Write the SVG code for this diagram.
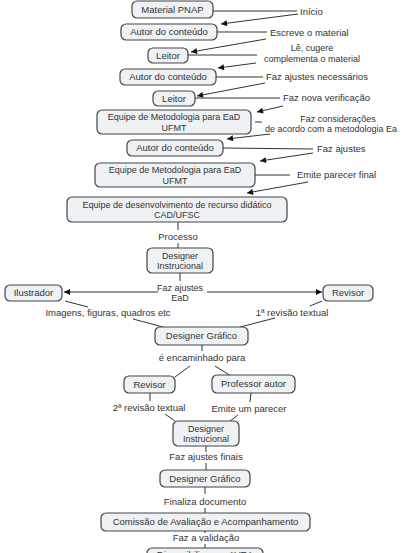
<svg xmlns="http://www.w3.org/2000/svg" width="409" height="553" viewBox="0 0 409 553">
<style>
.n rect{fill:#eef2f4;stroke:#444;stroke-width:1.2}
text{font-family:"Liberation Sans",Arial,sans-serif;font-size:9.5px;fill:#333;text-anchor:middle}
.m{font-size:9px}
.l{text-anchor:start}
.c line{stroke:#333;stroke-width:1}
.c .a{marker-end:url(#ah)}
</style>
<defs>
<marker id="ah" viewBox="0 0 10 10" refX="10" refY="5" markerWidth="10" markerHeight="6" markerUnits="userSpaceOnUse" orient="auto">
<path d="M0,0 L10,5 L0,10 z" fill="#111"/>
</marker>
</defs>
<rect width="409" height="553" fill="#fff"/>
<g class="c" id="connectors">
<line x1="213" y1="11" x2="297" y2="11"/>
<text class="l" x="300" y="15">Início</text>
<line class="a" x1="298" y1="14" x2="221" y2="24"/>
<line x1="217" y1="32" x2="267" y2="32"/>
<text class="l" x="270" y="36">Escreve o material</text>
<line class="a" x1="266" y1="39" x2="191" y2="52"/>
<line x1="188" y1="55" x2="257" y2="55"/>
<text class="m" x="312" y="51">Lê, cugere</text>
<text class="m" x="312" y="61.5">complementa o material</text>
<line class="a" x1="256" y1="63" x2="218" y2="68"/>
<line x1="216" y1="77" x2="263" y2="77"/>
<text class="l" x="266" y="80">Faz ajustes necessários</text>
<line class="a" x1="265" y1="83" x2="197" y2="96"/>
<line x1="195" y1="98" x2="280" y2="98"/>
<text class="l" x="283" y="101">Faz nova verificação</text>
<line class="a" x1="283" y1="106" x2="257" y2="112"/>
<line x1="255" y1="122" x2="262" y2="122"/>
<text class="m" x="338" y="121.5">Faz considerações</text>
<text class="m l" x="265" y="132">de acordo com a metodologia Ea</text>
<line class="a" x1="270" y1="134" x2="227" y2="139"/>
<line x1="223" y1="148" x2="313" y2="149"/>
<text class="l" x="317" y="152">Faz ajustes</text>
<line class="a" x1="313" y1="153" x2="260" y2="161"/>
<line x1="255" y1="175" x2="290" y2="175"/>
<text class="l" x="297" y="178">Emite parecer final</text>
<line class="a" x1="308" y1="182" x2="247" y2="193"/>
<line x1="178" y1="222" x2="178" y2="230"/>
<text x="178" y="240">Processo</text>
<line x1="178" y1="243" x2="178" y2="248"/>
<line x1="180" y1="273" x2="180" y2="281"/>
<text class="m" x="180" y="290.5">Faz ajustes</text>
<text class="m" x="180" y="301">EaD</text>
<line class="a" x1="158" y1="292" x2="64" y2="292"/>
<line class="a" x1="207" y1="292" x2="322" y2="292"/>
<line x1="65" y1="301" x2="88" y2="307"/>
<text x="108" y="316">Imagens, figuras, quadros etc</text>
<line x1="133" y1="319" x2="163" y2="327"/>
<line x1="322" y1="301" x2="310" y2="306"/>
<text x="292" y="316">1ª revisão textual</text>
<line x1="275" y1="318" x2="240" y2="327"/>
<line x1="202" y1="345" x2="202" y2="351"/>
<text x="202" y="361">é encaminhado para</text>
<line x1="190" y1="366" x2="175" y2="377"/>
<line x1="215" y1="366" x2="231" y2="376"/>
<line x1="150" y1="393" x2="150" y2="401"/>
<text x="149" y="411">2ª revisão textual</text>
<line x1="165" y1="414" x2="175" y2="421"/>
<line x1="251" y1="393" x2="250" y2="402"/>
<text x="249" y="412">Emite um parecer</text>
<line x1="238" y1="415" x2="230" y2="421"/>
<line x1="206" y1="446" x2="206" y2="452"/>
<text x="206" y="460">Faz ajustes finais</text>
<line x1="206" y1="463" x2="206" y2="470"/>
<line x1="205" y1="487" x2="205" y2="494"/>
<text x="205" y="505">Finaliza documento</text>
<line x1="205" y1="508" x2="205" y2="513"/>
<line x1="205" y1="531" x2="205" y2="533"/>
<text x="206" y="541">Faz a validação</text>
<line x1="205" y1="544" x2="205" y2="548"/>
</g>
<g class="n" id="material-pnap"><rect x="132" y="1" width="81" height="17" rx="5"/><text x="172.5" y="13">Material PNAP</text></g>
<g class="n" id="autor-1"><rect x="121" y="24" width="96" height="16" rx="5"/><text x="169" y="35">Autor do conteúdo</text></g>
<g class="n" id="leitor-1"><rect x="148" y="48" width="40" height="15" rx="5"/><text x="168" y="59">Leitor</text></g>
<g class="n" id="autor-2"><rect x="120" y="69" width="96" height="16" rx="5"/><text x="168" y="80">Autor do conteúdo</text></g>
<g class="n" id="leitor-2"><rect x="153" y="91" width="42" height="15" rx="5"/><text x="174" y="102">Leitor</text></g>
<g class="n" id="equipe-met-1"><rect x="97" y="110" width="154" height="24" rx="5"/><text class="m" x="174" y="120">Equipe de Metodologia para EaD</text><text class="m" x="174" y="130.5">UFMT</text></g>
<g class="n" id="autor-3"><rect x="127" y="140" width="96" height="16" rx="5"/><text x="175" y="151">Autor do conteúdo</text></g>
<g class="n" id="equipe-met-2"><rect x="95" y="163" width="160" height="24" rx="5"/><text class="m" x="175" y="173">Equipe de Metodologia para EaD</text><text class="m" x="175" y="183.5">UFMT</text></g>
<g class="n" id="equipe-dev"><rect x="67" y="197" width="220" height="25" rx="5"/><text class="m" x="177" y="207.5">Equipe de desenvolvimento de recurso didático</text><text class="m" x="177" y="218">CAD/UFSC</text></g>
<g class="n" id="designer-instr-1"><rect x="147" y="248" width="66" height="25" rx="5"/><text class="m" x="180" y="258.5">Designer</text><text class="m" x="180" y="269">Instrucional</text></g>
<g class="n" id="ilustrador"><rect x="5" y="285" width="57" height="16" rx="5"/><text x="33.5" y="296">Ilustrador</text></g>
<g class="n" id="revisor-1"><rect x="323" y="285" width="50" height="16" rx="5"/><text x="348" y="296">Revisor</text></g>
<g class="n" id="designer-graf-1"><rect x="155" y="327" width="93" height="18" rx="5"/><text x="201.5" y="339">Designer Gráfico</text></g>
<g class="n" id="revisor-2"><rect x="124" y="376" width="51" height="17" rx="5"/><text x="149.5" y="388">Revisor</text></g>
<g class="n" id="professor-autor"><rect x="212" y="375" width="83" height="18" rx="5"/><text x="253.5" y="387">Professor autor</text></g>
<g class="n" id="designer-instr-2"><rect x="173" y="421" width="66" height="25" rx="5"/><text class="m" x="206" y="431.5">Designer</text><text class="m" x="206" y="442">Instrucional</text></g>
<g class="n" id="designer-graf-2"><rect x="160" y="470" width="90" height="17" rx="5"/><text x="205" y="482">Designer Gráfico</text></g>
<g class="n" id="comissao"><rect x="101" y="513" width="209" height="18" rx="5"/><text x="205.5" y="525">Comissão de Avaliação e Acompanhamento</text></g>
<g class="n" id="disponibilizar"><rect x="147" y="548" width="116" height="18" rx="5"/><text x="205" y="558">Disponibilizar no AVEA</text></g>
</svg>
